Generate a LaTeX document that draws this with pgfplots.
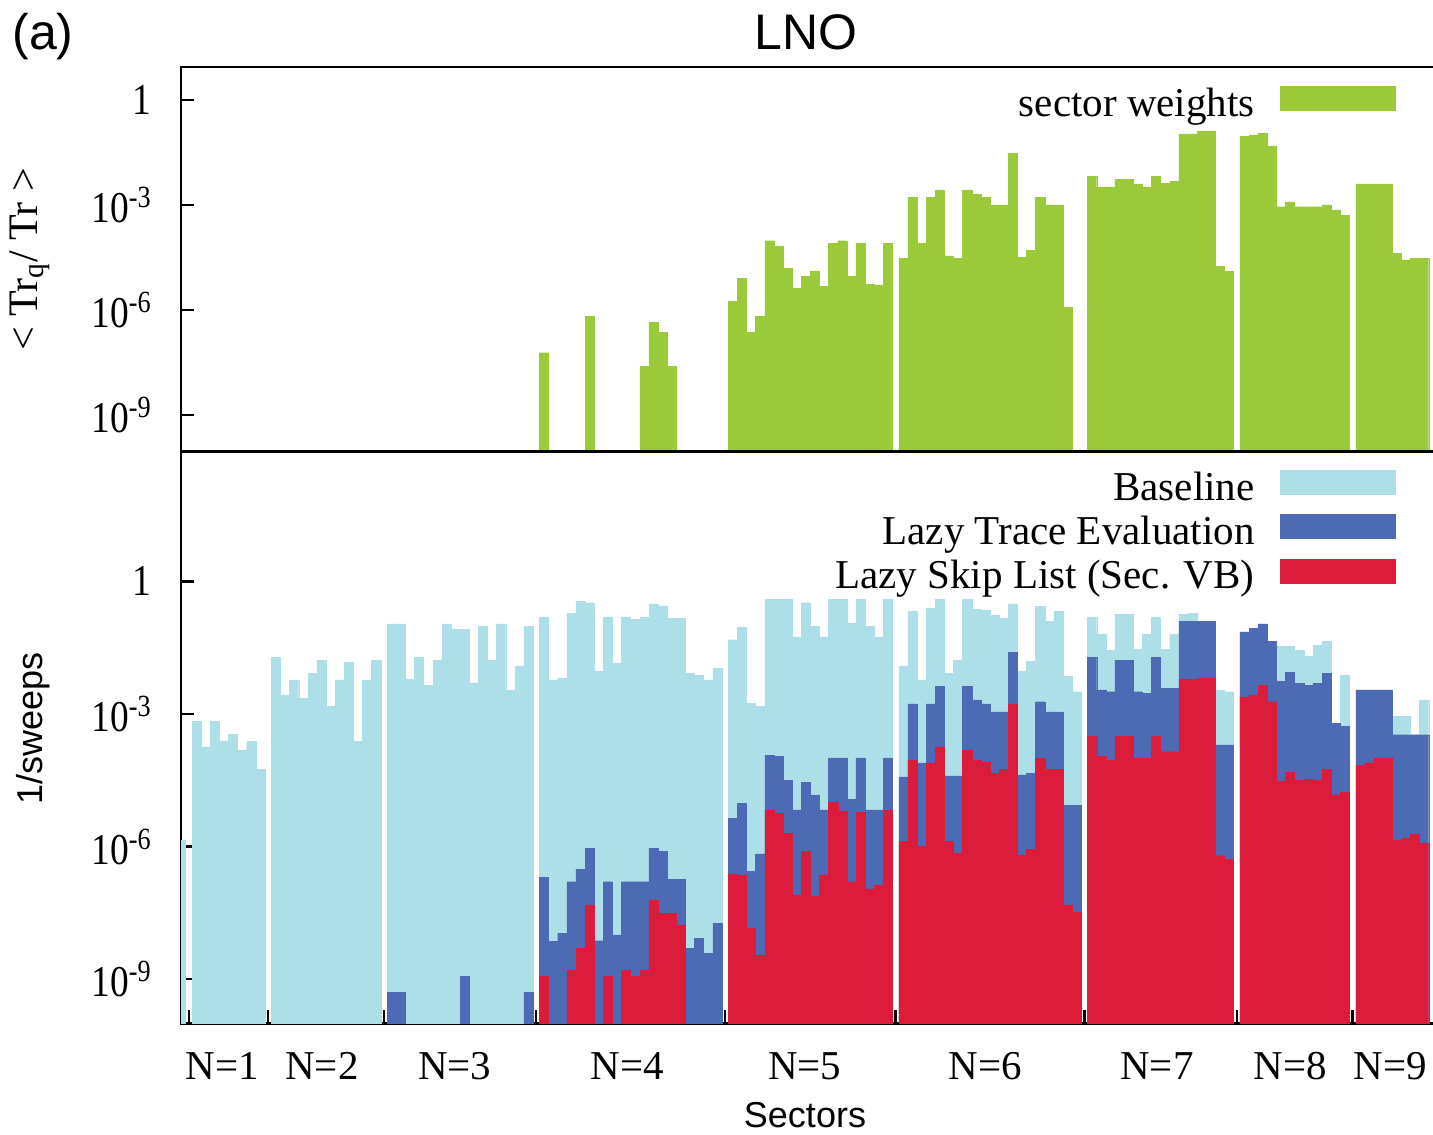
\documentclass[border=0pt]{standalone}
\usepackage{fontspec}
\setmainfont{Liberation Serif}
\newfontfamily\sansf{Liberation Sans}
\newfontfamily\tickf[FakeStretch=0.85]{Liberation Serif}
\usepackage{pgfplots}
\pgfplotsset{compat=1.18}
\definecolor{cbase}{RGB}{173,223,232}
\definecolor{ctrace}{RGB}{76,107,180}
\definecolor{cskip}{RGB}{220,28,58}
\definecolor{cgreen}{RGB}{154,202,58}
\pgfplotsset{
  mybars/.style={ybar, bar width=1, bar shift=0pt, fill=#1, draw=#1, line width=0.2pt},
  swatch/.style={legend image code/.code={\fill[#1] (0pt,-1.5pt) rectangle (57.5pt,10.5pt);}},
}
\begin{document}
\begin{tikzpicture}
\path[use as bounding box] (0pt,0pt) rectangle (716.5pt,567pt);
% ---------------- top panel: sector weights ----------------
\begin{axis}[
  ymode=log, log origin y=infty,
  scale only axis, width=627.5pt, height=192.35pt,
  at={(90.5pt,341.15pt)}, anchor=south west,
  xmin=-1.206, xmax=136.40,
  ymin=8.9e-11, ymax=8.77,
  axis line style={line width=1.2pt},
  tick style={line width=1.2pt, black},
  major tick length=6.5pt,
  tick align=inside,
  ytick pos=left,
  yminorticks=false,
  ytick={1e-9,1e-6,1e-3,1},
  yticklabels={10\textsuperscript{-9},10\textsuperscript{-6},10\textsuperscript{-3},1},
  yticklabel style={inner sep=0pt, xshift=-14.5pt, font=\tickf\fontsize{22}{26}\selectfont},
  xtick=\empty,
  ylabel={< Tr\textsubscript{q}/ Tr >},
  ylabel style={at={(axis description cs:-0.1203,0.5)}, anchor=center, font=\fontsize{21}{25}\selectfont},
  legend cell align=right,
  legend plot pos=right,
  legend style={draw=none, fill=none, inner sep=0pt, outer sep=0pt,
    row sep=2pt, column sep=12.5pt,
    nodes={inner sep=0pt, text height=14pt, text depth=5pt, font=\fontsize{20.5}{24}\selectfont},
    at={(0.9673,0.9506)}, anchor=north east},
]
\addplot[mybars=cgreen, swatch=cgreen] coordinates {
 (38.6,6.0e-8) (43.6,6.5e-7) (49.6,2.5e-8) (50.6,4.4e-7) (51.6,2.24e-7) (52.6,2.5e-8)
 (59.3,1.74e-6) (60.3,7.9e-6) (61.3,2.24e-7) (62.3,6.5e-7) (63.3,9.5e-5) (64.3,6.8e-5) (65.3,1.55e-5) (66.3,4.2e-6) (67.3,9.3e-6) (68.3,1.3e-5) (69.3,4.7e-6) (70.3,7.9e-5) (71.3,9.5e-5) (72.3,9.3e-6) (73.3,7.9e-5) (74.3,5.5e-6) (75.3,5.1e-6) (76.3,7.9e-5)
 (78,3.0e-5) (79,1.66e-3) (80,8.3e-5) (81,1.66e-3) (82,2.7e-3) (83,3.5e-5) (84,3.0e-5) (85,2.7e-3) (86,2.0e-3) (87,1.66e-3) (88,1.0e-3) (89,1.0e-3) (90,3.0e-2) (91,3.2e-5) (92,5.0e-5) (93,1.66e-3) (94,1.0e-3) (95,1.0e-3) (96,1.2e-6)
 (98.7,6.5e-3) (99.7,3.3e-3) (100.7,3.3e-3) (101.7,5.5e-3) (102.7,5.5e-3) (103.7,4.0e-3) (104.7,3.3e-3) (105.7,6.5e-3) (106.7,4.2e-3) (107.7,4.7e-3) (108.7,0.107) (109.7,0.107) (110.7,0.132) (111.7,0.132) (112.7,1.8e-5) (113.7,1.26e-5)
 (115.4,9.3e-2) (116.4,0.1) (117.4,0.112) (118.4,4.9e-2) (119.4,8.9e-4) (120.4,1.23e-3) (121.4,8.9e-4) (122.4,8.9e-4) (123.4,8.9e-4) (124.4,1.0e-3) (125.4,7.2e-4) (126.4,5.1e-4)
 (128.1,4.0e-3) (129.1,4.0e-3) (130.1,4.0e-3) (131.1,4.0e-3) (132.1,4.2e-5) (133.1,2.7e-5) (134.1,3.0e-5) (135.1,3.0e-5)
};
\addlegendentry{sector weights}
\end{axis}
% ---------------- bottom panel: 1/sweeps ----------------
\begin{axis}[
  ymode=log, log origin y=infty,
  scale only axis, width=627.5pt, height=285.8pt,
  at={(90.5pt,55.35pt)}, anchor=south west,
  xmin=-1.206, xmax=136.40,
  ymin=1e-10, ymax=865,
  axis line style={line width=1.2pt},
  tick style={line width=1.2pt, black},
  major tick length=6.5pt,
  tick align=inside,
  ytick pos=left,
  yminorticks=false,
  ytick={1e-9,1e-6,1e-3,1},
  yticklabels={10\textsuperscript{-9},10\textsuperscript{-6},10\textsuperscript{-3},1},
  yticklabel style={inner sep=0pt, xshift=-14.5pt, font=\tickf\fontsize{22}{26}\selectfont},
  xtick={-0.35,8.35,21.05,37.75,58.45,77.15,97.85,114.55,127.25},
  xticklabels={,,,,,,,,},
  xtick pos=left,
  extra x ticks={3.3,14.25,28.8,47.7,67.2,87.0,105.8,120.4,131.4},
  extra x tick labels={{N=1},{N=2},{N=3},{N=4},{N=5},{N=6},{N=7},{N=8},{N=9}},
  extra x tick style={major tick length=0pt, xticklabel style={inner sep=0pt, anchor=north, yshift=-14.35pt, font=\fontsize{20.5}{24}\selectfont}},
  xlabel={Sectors},
  xlabel style={at={(axis description cs:0.4972,0)}, anchor=base, yshift=-51.85pt, font=\sansf\fontsize{18}{22}\selectfont},
  ylabel={1/sweeps},
  ylabel style={at={(axis description cs:-0.118,0.515)}, anchor=center, font=\sansf\fontsize{18}{22}\selectfont},
  legend cell align=right,
  legend plot pos=right,
  legend style={draw=none, fill=none, inner sep=0pt, outer sep=0pt,
    row sep=2pt, column sep=12.5pt,
    nodes={inner sep=0pt, text height=14pt, text depth=5pt, font=\fontsize{20.5}{24}\selectfont},
    at={(0.9673,0.9678)}, anchor=north east},
]
\addplot[mybars=cbase, swatch=cbase] coordinates {
 (-1.2,1.4e-6)
 (0.5,6.8e-4) (1.5,1.8e-4) (2.5,6.8e-4) (3.5,2.4e-4) (4.5,3.5e-4) (5.5,1.55e-4) (6.5,2.4e-4) (7.5,5.5e-5)
 (9.2,1.95e-2) (10.2,2.6e-3) (11.2,5.9e-3) (12.2,2.3e-3) (13.2,8.3e-3) (14.2,1.66e-2) (15.2,1.5e-3) (16.2,5.9e-3) (17.2,1.5e-2) (18.2,2.4e-4) (19.2,5.9e-3) (20.2,1.66e-2)
 (21.9,0.11) (22.9,0.11) (23.9,6.2e-3) (24.9,1.95e-2) (25.9,4.4e-3) (26.9,1.66e-2) (27.9,0.11) (28.9,8.3e-2) (29.9,8.3e-2) (30.9,5.1e-3) (31.9,9.5e-2) (32.9,1.66e-2) (33.9,0.11) (34.9,3.5e-3) (35.9,1.23e-2) (36.9,9.5e-2)
 (38.6,0.158) (39.6,5.9e-3) (40.6,6.6e-3) (41.6,0.19) (42.6,0.35) (43.6,0.33) (44.6,9.1e-3) (45.6,0.158) (46.6,1.4e-2) (47.6,0.158) (48.6,0.138) (49.6,0.155) (50.6,0.31) (51.6,0.28) (52.6,0.148) (53.6,0.148) (54.6,8.3e-3) (55.6,7.6e-3) (56.6,5.9e-3) (57.6,1.1e-2)
 (59.3,4.8e-2) (60.3,9.1e-2) (61.3,1.74e-3) (62.3,1.48e-3) (63.3,0.40) (64.3,0.40) (65.3,0.40) (66.3,5.6e-2) (67.3,0.33) (68.3,9.5e-2) (69.3,5.6e-2) (70.3,0.40) (71.3,0.40) (72.3,0.112) (73.3,0.40) (74.3,9.5e-2) (75.3,5.6e-2) (76.3,0.40)
 (78,1.23e-2) (79,0.21) (80,5.9e-3) (81,0.245) (82,0.40) (83,8.3e-3) (84,1.66e-2) (85,0.40) (86,0.23) (87,0.22) (88,0.174) (89,0.148) (90,0.31) (91,9.1e-3) (92,1.55e-2) (93,0.27) (94,0.123) (95,0.21) (96,7.1e-3) (97,3.2e-3)
 (98.7,0.158) (99.7,6.5e-2) (100.7,2.8e-2) (101.7,0.182) (102.7,0.182) (103.7,2.95e-2) (104.7,6.5e-2) (105.7,0.158) (106.7,2.95e-2) (107.7,6.5e-2) (108.7,0.182) (109.7,0.19) (110.7,0.123) (111.7,0.123) (112.7,3.5e-3) (113.7,3.2e-3)
 (115.4,7.2e-2) (116.4,8.7e-2) (117.4,0.11) (118.4,4.4e-2) (119.4,3.4e-2) (120.4,3.4e-2) (121.4,2.8e-2) (122.4,2.0e-2) (123.4,3.6e-2) (124.4,4.4e-2) (125.4,6.2e-4) (126.4,7.6e-3)
 (128.1,3.5e-3) (129.1,3.5e-3) (130.1,3.5e-3) (131.1,3.5e-3) (132.1,8.7e-4) (133.1,8.7e-4) (134.1,3.4e-4) (135.1,2.1e-3)
};
\addlegendentry{Baseline}
\addplot[mybars=ctrace, swatch=ctrace] coordinates {
 (21.9,5.1e-10) (22.9,5.1e-10) (29.9,1.15e-9) (36.9,5.1e-10)
 (38.6,2.0e-7) (39.6,7.1e-9) (40.6,1.1e-8) (41.6,1.6e-7) (42.6,3.1e-7) (43.6,9.1e-7) (44.6,7.4e-9) (45.6,1.6e-7) (46.6,1.0e-8) (47.6,1.6e-7) (48.6,1.6e-7) (49.6,1.6e-7) (50.6,9.1e-7) (51.6,7.8e-7) (52.6,1.78e-7) (53.6,1.82e-7) (54.6,5.0e-9) (55.6,8.5e-9) (56.6,3.9e-9) (57.6,1.86e-8)
 (59.3,4.4e-6) (60.3,9.5e-6) (61.3,2.7e-7) (62.3,6.8e-7) (63.3,1.17e-4) (64.3,1.1e-4) (65.3,3.2e-5) (66.3,6.8e-6) (67.3,2.8e-5) (68.3,1.48e-5) (69.3,6.8e-6) (70.3,1.02e-4) (71.3,1.02e-4) (72.3,1.17e-5) (73.3,1.02e-4) (74.3,6.8e-6) (75.3,6.8e-6) (76.3,1.02e-4)
 (78,3.8e-5) (79,1.7e-3) (80,7.8e-5) (81,1.7e-3) (82,4.2e-3) (83,4.0e-5) (84,4.0e-5) (85,4.2e-3) (86,2.1e-3) (87,1.7e-3) (88,1.12e-3) (89,1.12e-3) (90,2.45e-2) (91,4.2e-5) (92,4.6e-5) (93,1.9e-3) (94,1.12e-3) (95,1.12e-3) (96,8.7e-6) (97,8.7e-6)
 (98.7,1.95e-2) (99.7,3.5e-3) (100.7,3.2e-3) (101.7,1.66e-2) (102.7,1.66e-2) (103.7,3.2e-3) (104.7,2.95e-3) (105.7,1.95e-2) (106.7,3.8e-3) (107.7,3.8e-3) (108.7,0.123) (109.7,0.123) (110.7,0.123) (111.7,0.123) (112.7,2.0e-4) (113.7,2.0e-4)
 (115.4,7.2e-2) (116.4,8.7e-2) (117.4,0.11) (118.4,4.4e-2) (119.4,5.4e-3) (120.4,8.7e-3) (121.4,5.0e-3) (122.4,4.4e-3) (123.4,5.0e-3) (124.4,8.3e-3) (125.4,6.2e-4) (126.4,5.25e-4)
 (128.1,3.5e-3) (129.1,3.5e-3) (130.1,3.5e-3) (131.1,3.5e-3) (132.1,3.4e-4) (133.1,3.4e-4) (134.1,3.4e-4) (135.1,3.4e-4)
};
\addlegendentry{Lazy Trace Evaluation}
\addplot[mybars=cskip, swatch=cskip] coordinates {
 (38.6,1.15e-9) (41.6,1.6e-9) (42.6,5.0e-9) (43.6,4.8e-8) (45.6,1.15e-9) (47.6,1.6e-9) (48.6,1.15e-9) (49.6,1.6e-9) (50.6,6.2e-8) (51.6,3.1e-8) (52.6,3.1e-8) (53.6,1.7e-8)
 (59.3,2.4e-7) (60.3,2.2e-7) (61.3,1.4e-8) (62.3,3.4e-9) (63.3,6.8e-6) (64.3,5.75e-6) (65.3,2.0e-6) (66.3,8.1e-8) (67.3,7.8e-7) (68.3,7.4e-8) (69.3,2.3e-7) (70.3,1.0e-5) (71.3,6.2e-6) (72.3,1.6e-7) (73.3,5.9e-6) (74.3,1.1e-7) (75.3,1.35e-7) (76.3,6.8e-6)
 (78,1.3e-6) (79,9.1e-5) (80,1.0e-6) (81,7.8e-5) (82,1.8e-4) (83,1.3e-6) (84,7.1e-7) (85,1.55e-4) (86,9.1e-5) (87,8.3e-5) (88,4.6e-5) (89,5.5e-5) (90,1.7e-3) (91,6.5e-7) (92,8.7e-7) (93,1.0e-4) (94,5.5e-5) (95,5.5e-5) (96,4.8e-8) (97,3.2e-8)
 (98.7,3.1e-4) (99.7,1.1e-4) (100.7,9.1e-5) (101.7,3.1e-4) (102.7,3.1e-4) (103.7,1.0e-4) (104.7,1.0e-4) (105.7,3.1e-4) (106.7,1.4e-4) (107.7,1.4e-4) (108.7,6.2e-3) (109.7,6.2e-3) (110.7,6.5e-3) (111.7,6.5e-3) (112.7,6.2e-7) (113.7,5.1e-7)
 (115.4,2.45e-3) (116.4,2.7e-3) (117.4,4.4e-3) (118.4,1.9e-3) (119.4,2.95e-5) (120.4,4.7e-5) (121.4,3.1e-5) (122.4,3.3e-5) (123.4,3.2e-5) (124.4,5.5e-5) (125.4,1.48e-5) (126.4,1.66e-5)
 (128.1,7.1e-5) (129.1,7.9e-5) (130.1,1.02e-4) (131.1,1.02e-4) (132.1,1.4e-6) (133.1,1.55e-6) (134.1,1.95e-6) (135.1,1.2e-6)
};
\addlegendentry{Lazy Skip List (Sec. VB)}
\end{axis}
\node[font=\sansf\fontsize{25}{29}\selectfont, anchor=base, inner sep=0pt] at (403pt,542pt) {LNO};
\node[font=\sansf\fontsize{25}{29}\selectfont, anchor=base west, inner sep=0pt] at (6pt,542pt) {(a)};
\end{tikzpicture}
\end{document}
